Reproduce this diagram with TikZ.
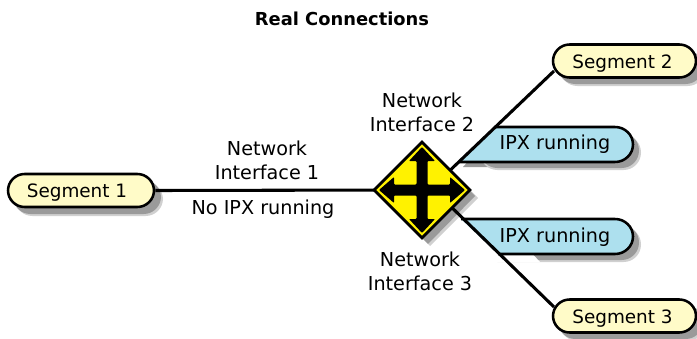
\documentclass[tikz,border=0pt]{standalone}
\usepackage{fontspec}
\setmainfont{DejaVu Sans}
\usetikzlibrary{calc,shapes.geometric}
\definecolor{pillyellow}{HTML}{FFFBC8}
\definecolor{pillblue}{HTML}{ADE0EE}
\definecolor{shadowgray}{HTML}{9A9A9A}
\definecolor{shadowlight}{HTML}{D0D0D0}
\tikzset{
  x=0.75pt,y=-0.75pt,
  lab/.style={font=\fontsize{14.4pt}{18pt}\selectfont,align=center,text=black,inner sep=0pt},
  seglab/.style={font=\fontsize{13.8pt}{18pt}\selectfont,text=black,inner sep=0pt},
  title/.style={font=\fontsize{13.4pt}{16pt}\selectfont\bfseries,inner sep=0pt},
  pill/.style={rounded corners=12.5pt,line width=1.9pt,draw=black,fill=pillyellow,inner sep=0pt,seglab,minimum height=33*0.75pt},
  tagline/.style={line width=1.9pt,draw=black},
  wire/.style={line width=2.3pt,black},
}
\newcommand{\pillshadow}[4]{%
  \fill[shadowlight,rounded corners=13pt] (#1+8,#2+8) rectangle (#3+8,#4+8);
  \fill[shadowgray,rounded corners=13pt] (#1+6,#2+6) rectangle (#3+6,#4+6);}
\newcommand{\tagshadow}[2]{%
  \fill[shadowlight,rounded corners=13pt] (480,#1+8) -- (641,#1+8) -- (641,#2+8) -- (480,#2+8) -- cycle;
  \fill[shadowgray,rounded corners=13pt] (480,#1+6) -- (639,#1+6) -- (639,#2+6) -- (480,#2+6) -- cycle;}
\newcommand{\seglabel}[1]{\raisebox{-5.3pt}[0pt][0pt]{#1}}
\begin{document}
\begin{tikzpicture}
\useasboundingbox (0,0) rectangle (697,339);
% shadows
\pillshadow{7}{174}{155}{208}
\pillshadow{552}{44}{697}{78}
\pillshadow{552}{299}{697}{333}
\fill[shadowgray] (463,167) -- (490,167) -- (490,137) -- cycle;
\tagshadow{127}{162}
\tagshadow{219}{254}
\fill[white] (440,219) -- (500,219) -- (540,262) -- (440,262) -- cycle;
\fill[shadowlight] (430,150) -- (478,198) -- (430,246) -- (382,198) -- cycle;
\fill[shadowgray] (428,148) -- (475,196) -- (428,244) -- (381,196) -- cycle;
% blue tags
\fill[pillblue] (496,127) -- (615,127) to[out=0,in=90] (633,144.5) to[out=-90,in=0] (615,162) -- (459,162) -- cycle;
\draw[tagline] (496,127) -- (615,127) to[out=0,in=90] (633,144.5) to[out=-90,in=0] (615,162) -- (459,162);
\fill[pillblue] (461,219) -- (615,219) to[out=0,in=90] (633,236.5) to[out=-90,in=0] (615,254) -- (498,254) -- cycle;
\draw[tagline] (461,219) -- (615,219) to[out=0,in=90] (633,236.5) to[out=-90,in=0] (615,254) -- (498,254);
% pills
\node[pill,minimum width=146*0.75pt] (s1) at (81,190.5) {\seglabel{Segment 1}\kern 6pt};
\node[pill,minimum width=143*0.75pt] (s2) at (624.5,61) {\seglabel{Segment 2}\kern 3pt};
\node[pill,minimum width=143*0.75pt] (s3) at (624.5,316) {\seglabel{Segment 3}\kern 3pt};
% wires
\coordinate (hubw) at (400,190);
\coordinate (hubne) at (442,178);
\coordinate (hubse) at (442,198);
\coordinate (w2) at (554,71);
\coordinate (w3) at (554,307);
\draw[wire] (s1.east) -- (hubw);
\draw[wire] (hubne) -- (w2);
\draw[wire] (hubse) -- (w3);
% diamond
\node[draw=black,fill=yellow,line width=2.2pt,shape=diamond,aspect=1,minimum size=97*0.75pt,inner sep=0pt] (hub) at (422,190) {};
\fill[black,rounded corners=0.6pt] (422,147) -- (435,161) -- (427.5,161) -- (427.5,184.5) -- (450,184.5) -- (450,177) -- (465,190) -- (450,203) -- (450,195.5) -- (427.5,195.5) -- (427.5,219) -- (435,219) -- (422,233) -- (409,219) -- (416.5,219) -- (416.5,195.5) -- (394,195.5) -- (394,203) -- (379,190) -- (394,177) -- (394,184.5) -- (416.5,184.5) -- (416.5,161) -- (409,161) -- cycle;
% labels
\node[title] (t) at (342,19) {Real Connections};
\node[lab] (n1) at (267,160.5) {Network\\Interface 1};
\node[lab] (n0) at (263,209.5) {No IPX running};
\node[lab] (n2) at (422,112.5) {Network\\Interface 2};
\node[lab] (n3) at (420,271) {Network\\Interface 3};
\node[lab] (i1) at (555,144.5) {IPX running};
\node[lab] (i2) at (555,237.5) {IPX running};
\end{tikzpicture}
\end{document}
